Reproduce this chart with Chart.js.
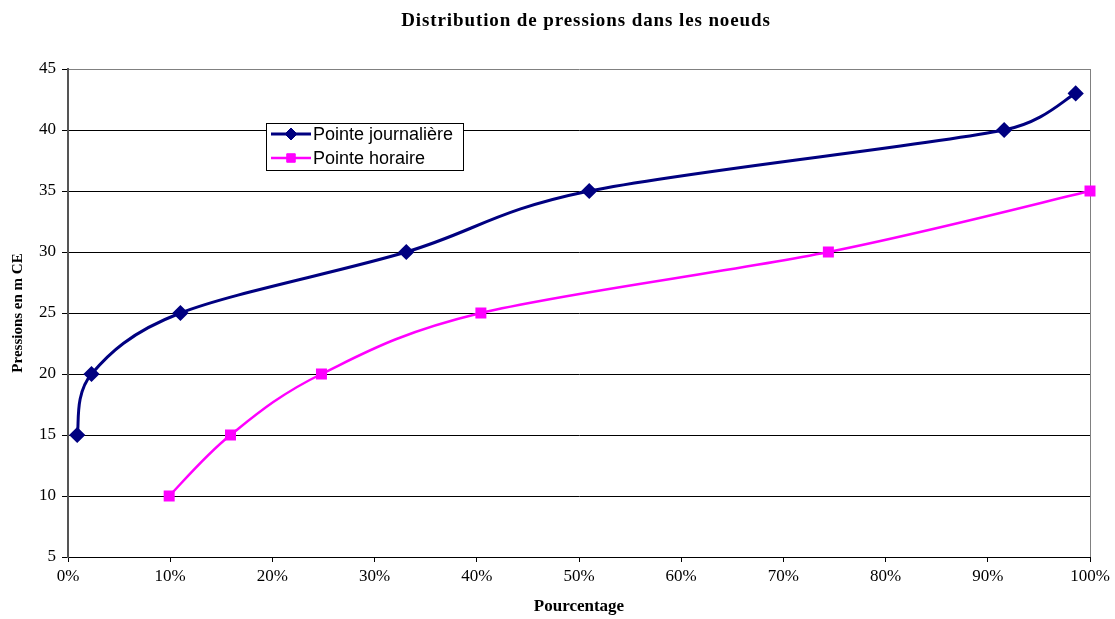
<!DOCTYPE html>
<html>
<head>
<meta charset="utf-8">
<script src="https://cdn.jsdelivr.net/npm/chart.js@4.4.1/dist/chart.umd.min.js"></script>
<style>
  html, body { margin: 0; padding: 0; background: #fff; }
  #wrap { width: 1115px; height: 619px; position: relative; }
</style>
</head>
<body>
<div id="wrap"><canvas id="pressionsChart" width="1115" height="619"></canvas></div>
<script>
// Pourcentage des noeuds (x, %) et pressions (y, m CE)
const journaliereX = [0.9, 2.3, 11.0, 33.1, 51.0, 91.6, 98.6];
const journaliereY = [15, 20, 25, 30, 35, 40, 43];
const horaireX = [9.9, 15.9, 24.8, 40.4, 74.4, 100];
const horaireY = [10, 15, 20, 25, 30, 35];
const seriesLabels = ["Pointe journalière", "Pointe horaire"];
const yTicks = [5, 10, 15, 20, 25, 30, 35, 40, 45];
const chartTitle = "Distribution de pressions dans les noeuds";

const serif = "'Liberation Serif', 'Times New Roman', serif";
const toPoints = (xs, ys) => xs.map((x, i) => ({ x: x, y: ys[i] }));

// Catmull-Rom style smoothing (spreadsheet "smoothed line"),
// handle length capped to half the adjacent segment to avoid overshoot
const smoothLines = {
  id: "smoothLines",
  beforeDatasetsDraw(chart) {
    chart.getSortedVisibleDatasetMetas().forEach((meta) => {
      const pts = meta.data;
      const n = pts.length;
      const dist = (a, b) => Math.hypot(b.x - a.x, b.y - a.y);
      for (let i = 0; i < n; i++) {
        const p = pts[i];
        const prev = pts[Math.max(i - 1, 0)];
        const next = pts[Math.min(i + 1, n - 1)];
        const chord = dist(prev, next) || 1;
        const ux = (next.x - prev.x) / chord;
        const uy = (next.y - prev.y) / chord;
        const back = Math.min(chord / 6, dist(prev, p) / 2);
        const fwd = Math.min(chord / 6, dist(p, next) / 2);
        p.cp1x = p.x - ux * back;
        p.cp1y = p.y - uy * back;
        p.cp2x = p.x + ux * fwd;
        p.cp2y = p.y + uy * fwd;
      }
      meta.dataset._pointsUpdated = true;
      meta.dataset._path = undefined;
    });
  }
};

// Title centred over the plot area
const plotTitle = {
  id: "plotTitle",
  afterDraw(chart) {
    const ctx = chart.ctx;
    const area = chart.chartArea;
    ctx.save();
    ctx.font = "bold 19px " + serif;
    ctx.letterSpacing = "0.9px";
    ctx.fillStyle = "#000";
    ctx.textAlign = "center";
    ctx.textBaseline = "middle";
    ctx.fillText(chartTitle, (area.left + area.right) / 2 + 7, 21);
    ctx.restore();
  }
};

// Legend drawn inside the plot area, boxed like a spreadsheet legend
const boxedLegend = {
  id: "boxedLegend",
  afterDraw(chart) {
    const ctx = chart.ctx;
    const x = 266, y = 123, w = 197, h = 47;
    ctx.save();
    ctx.fillStyle = "#fff";
    ctx.fillRect(x, y, w, h);
    ctx.strokeStyle = "#000";
    ctx.lineWidth = 1;
    ctx.strokeRect(x + 0.5, y + 0.5, w, h);
    chart.data.datasets.forEach((ds, i) => {
      const cy = y + 11 + i * 24;
      ctx.strokeStyle = ds.borderColor;
      ctx.lineWidth = ds.borderWidth;
      ctx.beginPath();
      ctx.moveTo(x + 5, cy);
      ctx.lineTo(x + 45, cy);
      ctx.stroke();
      ctx.fillStyle = ds.pointBackgroundColor;
      ctx.strokeStyle = ds.pointBorderColor;
      ctx.lineWidth = 1;
      Chart.helpers.drawPoint(ctx, {
        pointStyle: ds.pointStyle,
        radius: ds.pointRadius,
        borderWidth: 1
      }, x + 25, cy);
      ctx.fillStyle = "#000";
      ctx.font = "18px 'Liberation Sans', Arial, sans-serif";
      ctx.textBaseline = "middle";
      ctx.fillText(ds.label, x + 47, cy + 1);
    });
    ctx.restore();
  }
};

const ctx = document.getElementById("pressionsChart").getContext("2d");
new Chart(ctx, {
  type: "line",
  data: {
    datasets: [
      {
        label: seriesLabels[0],
        data: toPoints(journaliereX, journaliereY),
        borderColor: "#000080",
        backgroundColor: "#000080",
        pointBackgroundColor: "#000080",
        pointBorderColor: "#000080",
        borderWidth: 3,
        pointStyle: "rectRot",
        pointRadius: 6,
        tension: 0.4,
        clip: false
      },
      {
        label: seriesLabels[1],
        data: toPoints(horaireX, horaireY),
        borderColor: "#ff00ff",
        backgroundColor: "#ff00ff",
        pointBackgroundColor: "#ff00ff",
        pointBorderColor: "#ff00ff",
        borderWidth: 2.5,
        pointStyle: "rect",
        pointRadius: 6,
        tension: 0.4,
        clip: false
      }
    ]
  },
  options: {
    responsive: false,
    animation: false,
    layout: { padding: { left: 0, right: 25, top: 69, bottom: 0 } },
    plugins: {
      legend: { display: false },
      tooltip: { enabled: false },
      title: { display: false }
    },
    scales: {
      x: {
        type: "linear",
        min: 0,
        max: 100,
        afterFit: (scale) => { scale.height = 62; },
        ticks: {
          stepSize: 10,
          color: "#000",
          padding: 4,
          font: { family: serif, size: 17 },
          callback: (v) => v + "%"
        },
        grid: {
          color: (c) => (c.tick && c.tick.value === 100 ? "#808080" : "rgba(0,0,0,0)"),
          tickColor: "#000",
          tickLength: 5,
          drawTicks: true
        },
        border: { color: "#000", width: 1 },
        title: {
          display: true,
          text: "Pourcentage",
          color: "#000",
          font: { family: serif, size: 17, weight: "bold" },
          padding: { top: 0, bottom: 2 }
        }
      },
      y: {
        min: 5,
        max: 45,
        afterFit: (scale) => { scale.width = 68; },
        afterBuildTicks: (scale) => { scale.ticks = yTicks.map((v) => ({ value: v })); },
        ticks: {
          color: "#000",
          padding: 6,
          font: { family: serif, size: 17 }
        },
        grid: {
          color: (c) => (c.tick && c.tick.value === 45 ? "#808080" : "#000"),
          tickColor: "#000",
          tickLength: 6
        },
        border: { color: "#555", width: 2 },
        title: {
          display: true,
          text: "Pressions en m CE",
          color: "#000",
          font: { family: serif, size: 15, weight: "bold" },
          padding: { top: 9, bottom: 0 }
        }
      }
    }
  },
  plugins: [smoothLines, plotTitle, boxedLegend]
});
</script>
</body>
</html>
